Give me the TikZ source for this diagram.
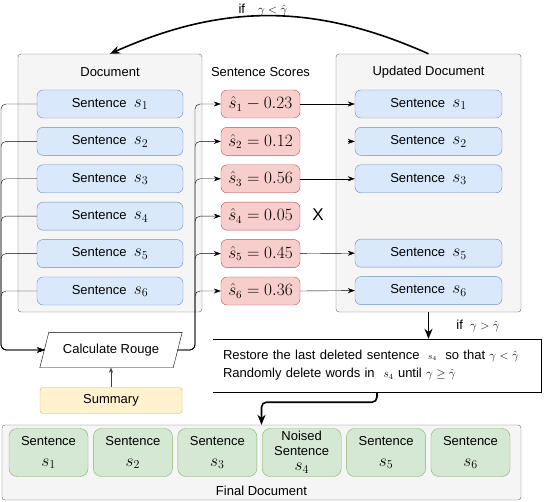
\documentclass[tikz,border=0pt]{standalone}
\usepackage{amsmath,amssymb}
\usepackage{fontspec}
\setmainfont{Liberation Sans}
\usetikzlibrary{arrows.meta,positioning,shapes.geometric}
\definecolor{panelgray}{HTML}{F5F5F5}
\definecolor{paneledge}{HTML}{666666}
\definecolor{docblue}{HTML}{DAE8FC}
\definecolor{docedge}{HTML}{6C8EBF}
\definecolor{scorered}{HTML}{F8CECC}
\definecolor{scoreedge}{HTML}{B85450}
\definecolor{sumyellow}{HTML}{FFF2CC}
\definecolor{sumedge}{HTML}{D6B656}
\definecolor{finalgreen}{HTML}{D5E8D4}
\definecolor{finaledge}{HTML}{82B366}
\newcommand{\sv}[1]{{\fontsize{17}{20}\selectfont$s_{#1}$}}
\newcommand{\smallmath}[1]{{\fontsize{12}{14}\selectfont$#1$}}
\newcommand{\tinymath}[1]{{\fontsize{9}{11}\selectfont$#1$}}

\begin{document}
\begin{tikzpicture}[x=1pt,y=-1pt,node distance=9pt and 5pt,>={Stealth[length=7pt,width=5pt]},
  font=\fontsize{13}{15}\selectfont]
\tikzset{
  panel/.style={draw=paneledge,fill=panelgray,rounded corners=3pt,
               minimum width=184pt,minimum height=258pt,inner sep=0pt},
  sentbox/.style={draw=docedge,fill=docblue,rounded corners=6pt,
               minimum width=146pt,minimum height=28pt,inner sep=0pt},
  scorebox/.style={draw=scoreedge,fill=scorered,rounded corners=6pt,
               minimum width=79pt,minimum height=28pt,inner sep=0pt,font=\fontsize{16}{19}\selectfont},
  finalbox/.style={draw=finaledge,fill=finalgreen,rounded corners=8pt,
               minimum width=79pt,minimum height=48pt,align=center,inner sep=0pt},
  bigarrow/.style={->,line width=1.6pt,>={Stealth[length=10pt,width=8pt]}}
}
\useasboundingbox (0,0) rectangle (548,502);
% panels
\node[panel] (docpanel) at (110,183) {};
\node[panel,minimum width=185pt] (updpanel) at (428.5,183) {};
\node[panel,minimum width=519pt,minimum height=75pt] (final) at (261.5,462.5) {};
\node (doctitle) at (110,72) {Document};
\node (scoretitle) at (260.5,72) {Sentence Scores};
\node (updtitle) at (428.5,72) {Updated Document};
\node (finaltitle) at (261.5,491) {Final Document};
% document sentences
\node[sentbox] (doc1) at (110,104) {Sentence\ \ \sv1};
\node[sentbox,below=of doc1] (doc2) {Sentence\ \ \sv2};
\node[sentbox,below=of doc2] (doc3) {Sentence\ \ \sv3};
\node[sentbox,below=of doc3] (doc4) {Sentence\ \ \sv4};
\node[sentbox,below=of doc4] (doc5) {Sentence\ \ \sv5};
\node[sentbox,below=of doc5] (doc6) {Sentence\ \ \sv6};
% scores
\node[scorebox] (sc1) at (260.5,104) {$\hat{s}_1 - 0.23$};
\node[scorebox,below=of sc1] (sc2) {$\hat{s}_2 = 0.12$};
\node[scorebox,below=of sc2] (sc3) {$\hat{s}_3 = 0.56$};
\node[scorebox,below=of sc3] (sc4) {$\hat{s}_4 = 0.05$};
\node[scorebox,below=of sc4] (sc5) {$\hat{s}_5 = 0.45$};
\node[scorebox,below=of sc5] (sc6) {$\hat{s}_6 = 0.36$};
\node[font=\fontsize{17}{20}\selectfont] (cross) at (318,215) {X};
% updated sentences
\node[sentbox,minimum width=147pt] (upd1) at (428.5,104) {Sentence\ \ \sv1};
\node[sentbox,minimum width=147pt,below=of upd1] (upd2) {Sentence\ \ \sv2};
\node[sentbox,minimum width=147pt,below=of upd2] (upd3) {Sentence\ \ \sv3};
\node[sentbox,minimum width=147pt,below=46pt of upd3] (upd5) {Sentence\ \ \sv5};
\node[sentbox,minimum width=147pt,below=of upd5] (upd6) {Sentence\ \ \sv6};
% rouge (parallelogram drawn round the node) and summary
\node[minimum width=133pt,minimum height=35pt,inner sep=0pt] (rouge) at (111,350) {Calculate Rouge};
\draw ([xshift=-4.5pt]rouge.south west) -- ([xshift=4.5pt]rouge.north west)
   -- ([xshift=4.5pt]rouge.north east) -- ([xshift=-4.5pt]rouge.south east) -- cycle;
\node[draw=sumedge,fill=sumyellow,rounded corners=3pt,minimum width=142pt,minimum height=26pt]
      (summary) at (111,400.5) {Summary};
\node[minimum width=328pt,minimum height=53pt,text width=308pt,inner sep=10pt,align=left]
      (restore) at (377,365.5) {Restore the last deleted sentence\ \ \tinymath{s_4}\ \ so that \smallmath{\gamma<\hat{\gamma}}\\[3pt]
      Randomly delete words in\ \ \smallmath{s_4} until \smallmath{\gamma\geq\hat{\gamma}}};
\draw (restore.north west) -- (restore.north east) -- (restore.south east) -- (restore.south west);
\node (ifless) at (263,10) {if\quad$\gamma<\hat{\gamma}$};
\node (ifgreater) at (478,326) {if\ \ \smallmath{\gamma>\hat{\gamma}}};
% final document
\node[finalbox] (fin1) at (48.5,452.5) {Sentence\\[6pt]\sv1};
\node[finalbox,right=of fin1] (fin2) {Sentence\\[6pt]\sv2};
\node[finalbox,right=of fin2] (fin3) {Sentence\\[6pt]\sv3};
\node[finalbox,right=of fin3] (fin4) {Noised\\Sentence\\\sv4};
\node[finalbox,right=of fin4] (fin5) {Sentence\\[6pt]\sv5};
\node[finalbox,right=of fin5] (fin6) {Sentence\\[6pt]\sv6};
% buses
\coordinate (lbus) at (1,350);
\coordinate (rbus) at (195,350);
\draw[->,rounded corners=5pt] (doc1.west) -| (lbus) -- (rouge.west);
\draw[->,rounded corners=5pt] (doc2.west) -| (lbus) -- (rouge.west);
\draw[->,rounded corners=5pt] (doc3.west) -| (lbus) -- (rouge.west);
\draw[->,rounded corners=5pt] (doc4.west) -| (lbus) -- (rouge.west);
\draw[->,rounded corners=5pt] (doc5.west) -| (lbus) -- (rouge.west);
\draw[->,rounded corners=5pt] (doc6.west) -| (lbus) -- (rouge.west);
\draw[->,rounded corners=5pt] (rouge.east) -| (rbus |- sc1.west) -- (sc1.west);
\draw[->,rounded corners=5pt] (rouge.east) -| (rbus |- sc2.west) -- (sc2.west);
\draw[->,rounded corners=5pt] (rouge.east) -| (rbus |- sc3.west) -- (sc3.west);
\draw[->,rounded corners=5pt] (rouge.east) -| (rbus |- sc4.west) -- (sc4.west);
\draw[->,rounded corners=5pt] (rouge.east) -| (rbus |- sc5.west) -- (sc5.west);
\draw[->,rounded corners=5pt] (rouge.east) -| (rbus |- sc6.west) -- (sc6.west);
\draw[->,black!75,>={Stealth[length=5pt,width=4pt]}] (summary) -- (rouge);
% kept sentences
\draw[->] (sc1.east) -- (upd1.west);
\draw[->] ([xshift=-7pt]upd2.west) -- (upd2.west);
\draw[->] (sc3.east) -- (upd3.west);
\draw[->] (sc5.east) -- (upd5.west);
\draw[->] (sc6.east) -- (upd6.west);
% loops
\draw[bigarrow] (updpanel.north) to[bend right=24] (docpanel.north);
\draw[bigarrow] (updpanel.south) -- (updpanel.south |- restore.north);
\draw[bigarrow,rounded corners=5pt] (restore.south) -- ++(0,10) -| (final.north);
\end{tikzpicture}
\end{document}
